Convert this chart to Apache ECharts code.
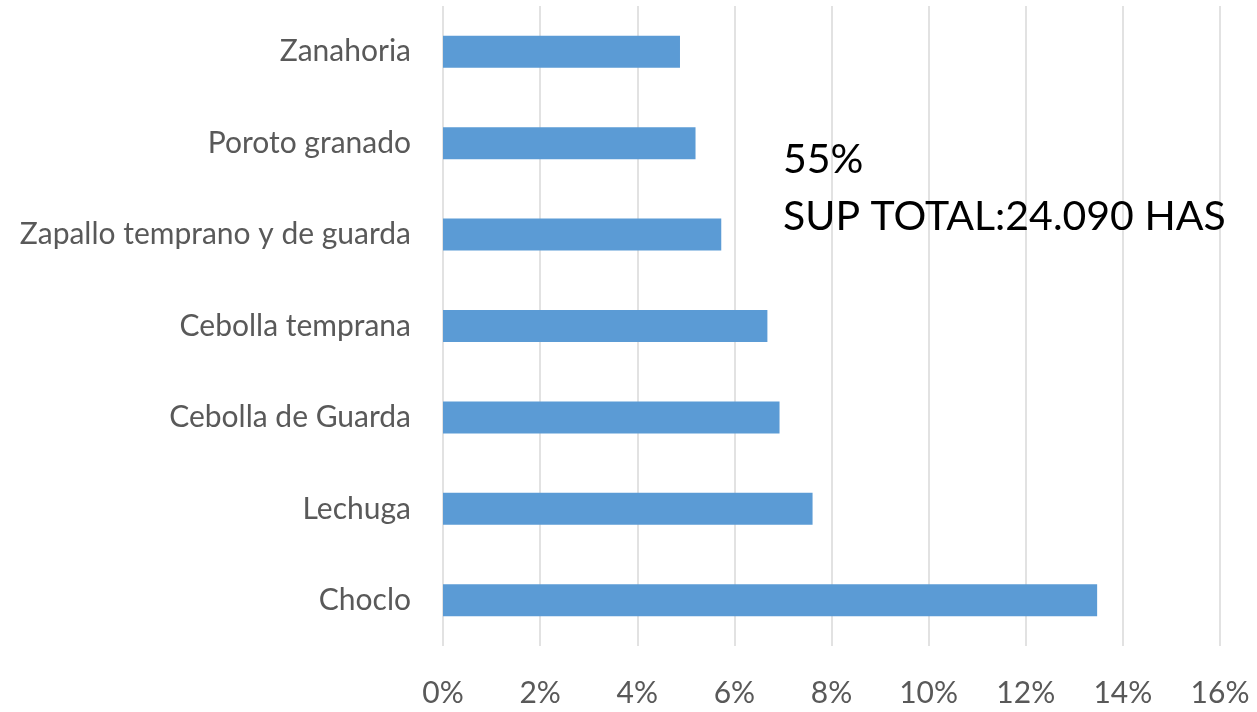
<!DOCTYPE html>
<html>
<head>
<meta charset="utf-8">
<script src="https://cdn.jsdelivr.net/npm/echarts@6/dist/echarts.min.js"></script>
<style>
  html, body { margin: 0; padding: 0; background: #fff; }
  #chart { width: 1257px; height: 712px; }
</style>
</head>
<body>
<div id="chart"></div>
<script>
// cultivos, de abajo hacia arriba
const cultivos = ['Choclo', 'Lechuga', 'Cebolla de Guarda', 'Cebolla temprana',
  'Zapallo temprano y de guarda', 'Poroto granado', 'Zanahoria'];
const porcentajes = [13.47, 7.61, 6.93, 6.68, 5.73, 5.2, 4.88];
const notaLineas = ['55%', 'SUP TOTAL:24.090 HAS'];

const chart = echarts.init(document.getElementById('chart'));

const option = {
  backgroundColor: '#fff',
  animation: false,
  grid: {
    left: 443,
    right: 37,
    top: 6,
    bottom: 66
  },
  xAxis: {
    type: 'value',
    min: 0,
    max: 16,
    interval: 2,
    axisLine: { show: false },
    axisTick: { show: false },
    splitLine: {
      lineStyle: { color: '#d9d9d9', width: 1.5 }
    },
    axisLabel: {
      formatter: '{value}%',
      color: '#595959',
      fontFamily: 'Lato',
      fontSize: 30,
      margin: 32
    }
  },
  yAxis: {
    type: 'category',
    data: cultivos,
    axisLine: { show: false },
    axisTick: { show: false },
    axisLabel: {
      color: '#595959',
      fontFamily: 'Lato',
      fontSize: 30,
      margin: 32
    }
  },
  series: [
    {
      type: 'bar',
      data: porcentajes,
      barWidth: '35%',
      itemStyle: {
        color: '#5b9bd5'
      }
    }
  ],
  graphic: [
    {
      type: 'text',
      left: 783,
      top: 131,
      z: 100,
      style: {
        text: notaLineas.join('\n'),
        fill: '#000',
        fontFamily: 'Lato',
        fontSize: 41,
        lineHeight: 57
      }
    }
  ]
};

chart.setOption(option);
</script>
</body>
</html>
